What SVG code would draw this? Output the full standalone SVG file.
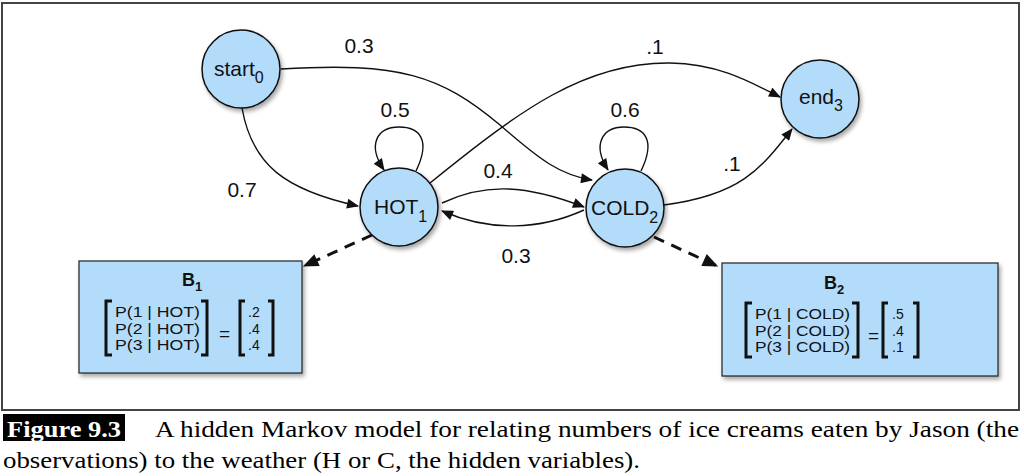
<svg xmlns="http://www.w3.org/2000/svg" width="1024" height="476" viewBox="0 0 1024 476">
<defs>
<style>
.node{fill:#b3dcfa;stroke:#111;stroke-width:1.5;filter:url(#sh)}
.box{fill:#b3dcfa;stroke:#222;stroke-width:1.2;filter:url(#sh)}
.lbl{font-family:"Liberation Sans",Arial,sans-serif;font-size:21px;fill:#111}
.sub{font-size:16px}
.edge{fill:none;stroke:#111;stroke-width:1.4}
.dash{fill:none;stroke:#111;stroke-width:3;stroke-dasharray:11 8}
.mt{font-family:"Liberation Sans",Arial,sans-serif;font-size:14px;fill:#111}
.bt{font-family:"Liberation Sans",Arial,sans-serif;font-size:18px;font-weight:bold;fill:#111}
.bs{font-size:13px}
.eq{font-family:"Liberation Sans",Arial,sans-serif;font-size:19px;fill:#111}
.br{fill:none;stroke:#111;stroke-width:3}
.cap{font-family:"Liberation Serif","Times New Roman",Times,serif;font-size:24px;fill:#000}
.capb{font-family:"Liberation Serif","Times New Roman",Times,serif;font-size:24px;font-weight:bold;fill:#fff}
</style>
<filter id="sh" x="-20%" y="-20%" width="150%" height="150%">
<feDropShadow dx="2" dy="3" stdDeviation="2" flood-color="#000" flood-opacity="0.35"/>
</filter>
<marker id="ah" viewBox="0 0 12 10" refX="11" refY="5" markerWidth="13" markerHeight="10" markerUnits="userSpaceOnUse" orient="auto">
<path d="M0,0 L12,5 L0,10 z" fill="#111"/>
</marker>
<marker id="ahd" viewBox="0 0 12 10" refX="11" refY="5" markerWidth="17" markerHeight="13" markerUnits="userSpaceOnUse" orient="auto">
<path d="M0,0 L12,5 L0,10 z" fill="#111"/>
</marker>
</defs>
<rect x="0" y="0" width="1024" height="476" fill="#fff"/>
<rect x="2" y="3" width="1017" height="407" fill="none" stroke="#444" stroke-width="2"/>

<g id="connectors">
<path class="edge" d="M242,108 C252,165 285,190 358,206" marker-end="url(#ah)"/>
<path class="edge" d="M281,69 C400,62 440,75 500,125 C540,160 560,175 592,180" marker-end="url(#ah)"/>
<path class="edge" d="M430,183 C520,110 585,62 670,63 C720,64 750,82 780,97" marker-end="url(#ah)"/>
<path class="edge" d="M416,171 C431,140 420,127 399,127 C377,127 367,145 384,170" marker-end="url(#ah)"/>
<path class="edge" d="M641,171 C656,140 645,127 624,127 C602,127 592,145 608,170" marker-end="url(#ah)"/>
<path class="edge" d="M442,203 C480,185 520,182 584,207" marker-end="url(#ah)"/>
<path class="edge" d="M584,210 C540,230 490,232 442,211" marker-end="url(#ah)"/>
<path class="edge" d="M664,205 C740,195 760,170 792,129" marker-end="url(#ah)"/>
<path class="dash" d="M372,235 L304,266" marker-end="url(#ahd)"/>
<path class="dash" d="M654,237 L717,266" marker-end="url(#ahd)"/>
<text class="lbl" x="359" y="53" text-anchor="middle">0.3</text>
<text class="lbl" x="242" y="197" text-anchor="middle">0.7</text>
<text class="lbl" x="395" y="117" text-anchor="middle">0.5</text>
<text class="lbl" x="625" y="117" text-anchor="middle">0.6</text>
<text class="lbl" x="655" y="54" text-anchor="middle">.1</text>
<text class="lbl" x="498" y="178" text-anchor="middle">0.4</text>
<text class="lbl" x="516" y="263" text-anchor="middle">0.3</text>
<text class="lbl" x="732" y="171" text-anchor="middle">.1</text>
</g>

<g id="start">
<circle class="node" cx="241" cy="69" r="39"/>
<text class="lbl" x="214" y="76">start<tspan class="sub" dy="7">0</tspan></text>
</g>
<g id="hot">
<circle class="node" cx="399" cy="207" r="39"/>
<text class="lbl" x="374" y="214">HOT<tspan class="sub" dy="8">1</tspan></text>
</g>
<g id="cold">
<circle class="node" cx="625" cy="208" r="39"/>
<text class="lbl" x="591" y="215">COLD<tspan class="sub" dy="8">2</tspan></text>
</g>
<g id="end">
<circle class="node" cx="820" cy="99" r="39"/>
<text class="lbl" x="799" y="104">end<tspan class="sub" dy="7">3</tspan></text>
</g>

<g id="b1">
<rect class="box" x="79" y="261" width="223" height="112"/>
<text class="bt" x="182" y="286">B<tspan class="bs" dy="5">1</tspan></text>
<path class="br" d="M112,301 L106,301 L106,355 L112,355"/>
<path class="br" d="M201,301 L207,301 L207,355 L201,355"/>
<text class="mt" x="115" y="317" textLength="85" lengthAdjust="spacingAndGlyphs">P(1 | HOT)</text>
<text class="mt" x="115" y="333.5" textLength="85" lengthAdjust="spacingAndGlyphs">P(2 | HOT)</text>
<text class="mt" x="115" y="350" textLength="85" lengthAdjust="spacingAndGlyphs">P(3 | HOT)</text>
<text class="eq" x="219" y="340">=</text>
<path class="br" d="M245,301 L240,301 L240,355 L245,355"/>
<path class="br" d="M268,301 L273,301 L273,355 L268,355"/>
<text class="mt" x="248" y="317">.2</text>
<text class="mt" x="248" y="333.5">.4</text>
<text class="mt" x="248" y="350">.4</text>
</g>

<g id="b2">
<rect class="box" x="722" y="263" width="276" height="113"/>
<text class="bt" x="824" y="289">B<tspan class="bs" dy="5">2</tspan></text>
<path class="br" d="M752,303 L746,303 L746,357 L752,357"/>
<path class="br" d="M852,303 L858,303 L858,357 L852,357"/>
<text class="mt" x="755" y="319" textLength="95" lengthAdjust="spacingAndGlyphs">P(1 | COLD)</text>
<text class="mt" x="755" y="335.5" textLength="95" lengthAdjust="spacingAndGlyphs">P(2 | COLD)</text>
<text class="mt" x="755" y="352" textLength="95" lengthAdjust="spacingAndGlyphs">P(3 | COLD)</text>
<text class="eq" x="868" y="342">=</text>
<path class="br" d="M888,303 L883,303 L883,357 L888,357"/>
<path class="br" d="M913,303 L918,303 L918,357 L913,357"/>
<text class="mt" x="892" y="319">.5</text>
<text class="mt" x="892" y="335.5">.4</text>
<text class="mt" x="892" y="352">.1</text>
</g>

<g id="caption">
<rect x="3" y="414" width="122" height="27" fill="#000"/>
<text class="capb" x="7" y="437" textLength="114" lengthAdjust="spacingAndGlyphs">Figure 9.3</text>
<text class="cap" x="155" y="437" textLength="864" lengthAdjust="spacingAndGlyphs">A hidden Markov model for relating numbers of ice creams eaten by Jason (the</text>
<text class="cap" x="3" y="468" textLength="637" lengthAdjust="spacingAndGlyphs">observations) to the weather (H or C, the hidden variables).</text>
</g>
</svg>
